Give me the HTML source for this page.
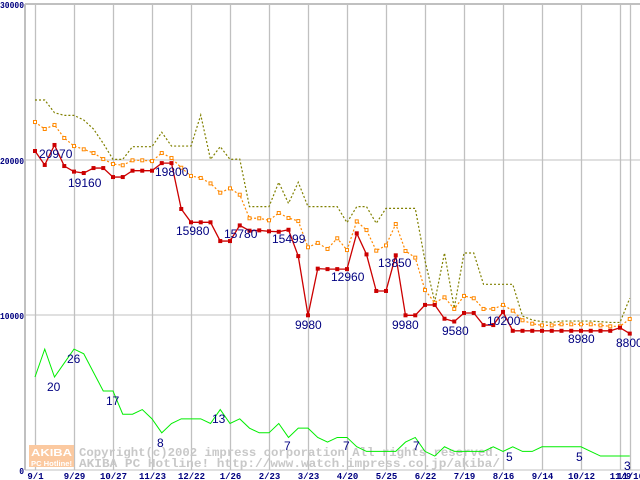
<!DOCTYPE html>
<html><head><meta charset="utf-8"><style>
html,body{margin:0;padding:0;background:#fff}
svg{display:block}
</style></head><body>
<svg id="chart" width="640" height="480" xmlns="http://www.w3.org/2000/svg" font-family="Liberation Sans, sans-serif"></svg>
<script>
const xLabels=["9/1","9/29","10/27","11/23","12/22","1/26","2/23","3/23","4/20","5/25","6/22","7/19","8/16","9/14","10/12","11/9","11/16"];
const yTicks=[0,10000,20000,30000];
const minPrice=[20580,19680,20970,19610,19250,19160,19480,19480,18900,18900,19310,19310,19310,19800,19800,16840,15980,15980,15980,14770,14770,15780,15440,15460,15400,15370,15499,13800,9980,12990,12960,12960,12960,15270,13910,11550,11550,13850,9980,9980,10650,10650,9760,9580,10130,10130,9350,9350,10200,8980,8980,8980,8980,8980,8980,8980,8980,8980,8980,8980,9180,8800];
const avgPrice=[22450,22000,22260,21420,20900,20690,20450,20060,19740,19660,19980,19980,19930,20450,20130,19500,18970,18840,18490,17890,18170,17760,16240,16240,16110,16580,16260,16060,14370,14650,14260,14950,14190,16040,15480,14150,14490,15870,14130,13700,11610,10790,11140,10390,11230,11080,10390,10390,10650,10280,9660,9440,9330,9330,9400,9400,9400,9400,9330,9270,9270,9740];
const maxPrice=[23870,23870,23050,22880,22880,22580,22000,21070,20040,20040,20860,20860,20860,21790,20900,20900,20900,22900,20040,20860,20040,20060,16990,16990,16990,18560,17200,18560,16990,16990,16990,16990,15960,16990,16990,15920,16880,16880,16880,16880,13500,10860,14000,10450,14000,14000,11980,11980,11980,11980,9930,9680,9570,9520,9610,9610,9610,9610,9570,9520,9520,11080];
const shopCount=[20,26,20,23,26,25,21,17,17,12,12,13,11,8,10,11,11,11,10,13,10,11,9,8,8,10,7,9,9,7,6,7,7,5,4,4,4,4,6,7,4,3,5,4,4,4,4,5,4,5,4,4,5,5,5,5,5,4,3,3,3,3];
const priceLabels=[[2,"20970",39,158],[5,"19160",68,187],[13,"19800",155,176],[16,"15980",176,235],[21,"15780",224,238],[26,"15499",272,243],[28,"9980",295,329],[31,"12960",331,281],[37,"13850",378,267],[38,"9980",392,329],[43,"9580",442,335],[48,"10200",487,325],[55,"8980",568,343],[61,"8800",616,347]];
const countLabels=[["20",47,391],["26",67,363],["17",106,405],["8",157,447],["13",212,423],["7",284,450],["7",343,450],["7",413,450],["5",506,461],["5",576,461],["3",624,470]];

const svg=document.getElementById('chart');
const NS='http://www.w3.org/2000/svg';
const X0=25,Y0=470,TOP=4;
function xs(i){return 35+9.75*i;}
function yp(v){return 470-v*0.0155;}
function yc(c){return 470-c*4.65;}
function mk(t,a,p){const e=document.createElementNS(NS,t);for(const k in a)e.setAttribute(k,a[k]);(p||svg).appendChild(e);return e;}

let f=mk('line',{x1:X0,y1:TOP,x2:640,y2:TOP,stroke:'#c0c0c0','stroke-width':2});


f=mk('line',{x1:X0,y1:TOP,x2:X0,y2:Y0,stroke:'#c0c0c0','stroke-width':2});


yTicks.forEach(v=>{
  const y=yp(v)-(v===30000?1:0);
  const l=mk('line',{x1:X0,y1:y,x2:640,y2:y,stroke:'#c0c0c0','stroke-width':1});
  
  
  const s=String(v);
  const w=s.length*4.8;
  const t=mk('text',{x:24-w,y:(v===30000?8:y+4),'font-size':9,'font-weight':'bold',fill:'#000080','font-family':'Liberation Mono, monospace',textLength:w,lengthAdjust:'spacingAndGlyphs'});
  t.textContent=s;
  
  
});
xLabels.forEach((s,k)=>{
  const i=k<16?k*4:61;
  const x=Math.round(xs(i))+0.5;
  const l=mk('line',{x1:x,y1:TOP,x2:x,y2:Y0,stroke:'#c0c0c0','stroke-width':1.3});
  
  
  const t=mk('text',{x:x,y:479,'text-anchor':'middle','font-size':9,'font-weight':'bold',fill:'#000080','font-family':'Liberation Mono, monospace'});
  t.textContent=s;
  
  
});
const g=mk('g',{});


mk('rect',{x:29,y:445,width:45,height:22,fill:'#fbc9a0'},g);
let t=mk('text',{x:51.5,y:456,'text-anchor':'middle','font-size':10,'font-weight':'bold',fill:'#fff',textLength:41,lengthAdjust:'spacingAndGlyphs'},g);t.textContent='AKIBA';
t=mk('text',{x:51.5,y:466,'text-anchor':'middle','font-size':7,'font-weight':'bold',fill:'#fff',textLength:41,lengthAdjust:'spacingAndGlyphs'},g);t.textContent='PC Hotline!';
t=mk('text',{x:79,y:456,'font-size':12,'font-weight':'bold',fill:'#c8c8c8','font-family':'Liberation Mono, monospace',textLength:421,lengthAdjust:'spacingAndGlyphs'},g);t.textContent='Copyright(c)2002 impress corporation All rights reserved.';
t=mk('text',{x:79,y:467,'font-size':12,'font-weight':'bold',fill:'#c8c8c8','font-family':'Liberation Mono, monospace',textLength:421,lengthAdjust:'spacingAndGlyphs'},g);t.textContent='AKIBA PC Hotline!  http://www.watch.impress.co.jp/akiba/';

function pts(arr,fy){return arr.map((v,i)=>xs(i).toFixed(2)+','+fy(v).toFixed(2)).join(' ');}
let p=mk('polyline',{points:pts(shopCount,yc),fill:'none',stroke:'#00ee00','stroke-width':1});


p=mk('polyline',{points:pts(maxPrice,yp),fill:'none',stroke:'#808000','stroke-width':1.2,'stroke-dasharray':'2,2'});


p=mk('polyline',{points:pts(avgPrice,yp),fill:'none',stroke:'#ff8800','stroke-width':1.2,'stroke-dasharray':'2,2'});


avgPrice.forEach((v,i)=>{
  const r=mk('rect',{x:xs(i)-1.5,y:yp(v)-1.5,width:3,height:3,fill:'#fff',stroke:'#ff8800','stroke-width':1});
  
  
});
p=mk('polyline',{points:pts(minPrice,yp),fill:'none',stroke:'#cc0000','stroke-width':1.3});


minPrice.forEach((v,i)=>{
  const r=mk('rect',{x:xs(i)-2,y:yp(v)-2,width:4,height:4,fill:'#cc0000'});
  
  
});
priceLabels.forEach(a=>{
  const t=mk('text',{x:a[2],y:a[3],'font-size':12,fill:'#000080'});
  t.textContent=a[1];
  
  
});
countLabels.forEach(a=>{
  const t=mk('text',{x:a[1],y:a[2],'font-size':12,fill:'#000080'});
  t.textContent=a[0];
  
  
});
</script>
</body></html>
